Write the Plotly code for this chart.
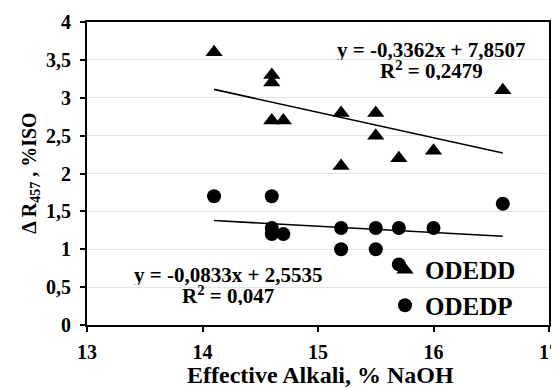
import plotly.graph_objects as go

# ODEDD (triangles)
odedd_x = [14.1, 14.6, 14.6, 14.6, 14.7, 15.2, 15.2, 15.5, 15.5, 15.7, 16.0, 16.6]
odedd_y = [3.6, 3.3, 3.2, 2.7, 2.7, 2.8, 2.1, 2.8, 2.5, 2.2, 2.3, 3.1]
# ODEDP (circles)
odedp_x = [14.1, 14.6, 14.6, 14.6, 14.7, 15.2, 15.2, 15.5, 15.5, 15.7, 15.7, 16.0, 16.6]
odedp_y = [1.7, 1.7, 1.28, 1.2, 1.2, 1.28, 1.0, 1.28, 1.0, 1.28, 0.8, 1.28, 1.6]

# trendline coefficients (slope, intercept)
odedd_fit = (-0.3362, 7.8507)
odedp_fit = (-0.0833, 2.5535)
trend_x = [14.1, 16.6]

FONT = "Liberation Serif"

def bf(size):
    return dict(family=FONT, size=size, color="black", weight="bold")

fig = go.Figure()
fig.add_trace(go.Scatter(x=trend_x, y=[odedd_fit[0]*v + odedd_fit[1] for v in trend_x],
                         mode="lines", line=dict(color="black", width=1.6), showlegend=False))
fig.add_trace(go.Scatter(x=trend_x, y=[odedp_fit[0]*v + odedp_fit[1] for v in trend_x],
                         mode="lines", line=dict(color="black", width=1.6), showlegend=False))
fig.add_trace(go.Scatter(x=odedd_x, y=odedd_y, mode="markers", name="ODEDD",
                         marker=dict(symbol="triangle-up", size=15, color="black")))
fig.add_trace(go.Scatter(x=odedp_x, y=odedp_y, mode="markers", name="ODEDP",
                         marker=dict(symbol="circle", size=14, color="black")))

ann_font = bf(21)
common = dict(xref="x", yref="y", showarrow=False, height=20, valign="middle",
              xanchor="center", yanchor="middle", font=ann_font)
fig.add_annotation(x=15.98, y=3.63, text="y = -0,3362x + 7,8507", **common)
fig.add_annotation(x=15.98, y=3.36, text="R<sup>2</sup> = 0,2479", **common)
fig.add_annotation(x=14.22, y=0.66, text="y = -0,0833x + 2,5535", **common)
fig.add_annotation(x=14.22, y=0.39, text="R<sup>2</sup> = 0,047", **common)

fig.add_annotation(x=-0.123, y=0.5, xref="paper", yref="paper", showarrow=False,
                   xanchor="center", yanchor="middle",
                   textangle=-90, text="Δ R<sub>457</sub> , %ISO", font=bf(20))
fig.add_annotation(x=0.505, y=-0.165, xref="paper", yref="paper", showarrow=False,
                   xanchor="center", yanchor="middle",
                   text="Effective Alkali, % NaOH", font=bf(24))

fig.update_layout(
    width=551, height=380,
    margin=dict(l=79, r=10, t=14, b=63),
    paper_bgcolor="white", plot_bgcolor="white",
    separators=",.",
    font=dict(family=FONT, color="black"),
    legend=dict(x=0.645, y=0.124, xanchor="left", yanchor="middle",
                bgcolor="rgba(0,0,0,0)", itemwidth=30,
                font=bf(25)),
    xaxis=dict(range=[13, 17], dtick=1, showgrid=False, zeroline=False, automargin=False,
               showline=True, linecolor="black", linewidth=2, mirror=True,
               ticks="outside", ticklen=5, tickcolor="black", tickwidth=1.5,
               ticklabelstandoff=3, tickfont=bf(20)),
    yaxis=dict(range=[0, 4], dtick=0.5, showgrid=True, gridcolor="#dde6e6", gridwidth=1,
               zeroline=False, showline=True, linecolor="black", linewidth=2, mirror=True,
               automargin=False,
               ticks="outside", ticklen=5, tickcolor="black", tickwidth=1.5,
               ticklabelstandoff=5, tickfont=bf(20)),
)

fig.write_html("out.html")
